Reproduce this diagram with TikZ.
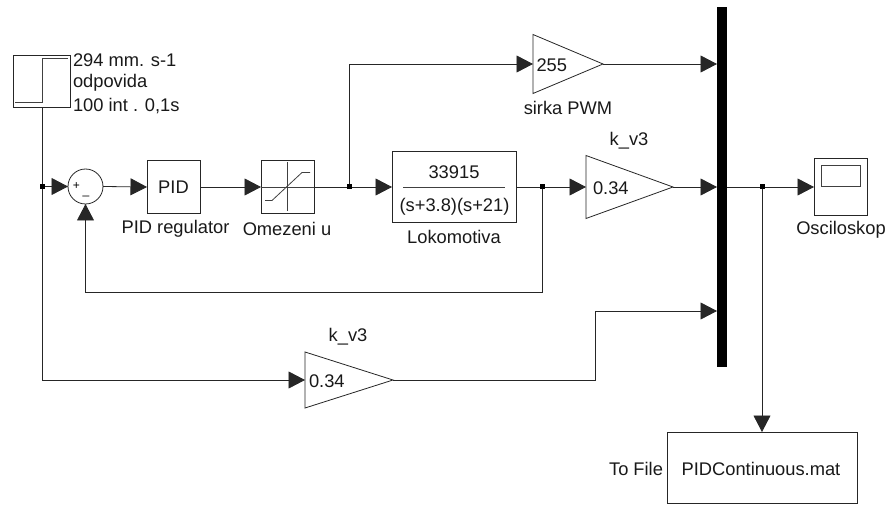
\documentclass[tikz,border=0pt]{standalone}
\usepackage{fontspec}
\setmainfont{Liberation Sans}
\usetikzlibrary{arrows.meta,shapes.geometric}
\tikzset{
  wire/.style={line width=0.8pt,draw=black!85},
  arrowwire/.style={wire,-{Triangle[length=16.5pt,width=17pt]}},
  blockbox/.style={draw=black!85,line width=0.8pt,fill=white,rectangle,inner sep=0,outer sep=0},
  gainblock/.style={draw=black!85,line width=0.8pt,fill=white,isosceles triangle,isosceles triangle stretches,shape border rotate=0,inner sep=0,outer sep=0,anchor=lower side},
  dotnode/.style={fill=black,rectangle,minimum size=5pt,inner sep=0,outer sep=0},
  lbl/.style={font=\fontsize{18.3}{22}\selectfont,inner sep=0,outer sep=0,text=black!90},
  glyph/.style={line width=0.8pt,draw=black!75}
}
\begin{document}
\begin{tikzpicture}[x=1pt,y=-1pt]
\useasboundingbox (0,0) rectangle (887,505);
% step source
\node[blockbox,minimum width=56.5pt,minimum height=52.5pt] (src) at (41.75,81.5) {};
\draw[glyph] (15,102) -- (42,102) -- (42,58.5) -- (67.5,58.5);
\node[lbl,anchor=west] (srcA) at (73,60.5) {294 mm. s-1};
\node[lbl,anchor=west] (srcB) at (73,83) {odpovida};
\node[lbl,anchor=west] (srcC) at (73,106.5) {100 int . 0,1s};
% sum
\node[draw=black!85,line width=0.8pt,fill=white,circle,minimum size=35pt,inner sep=0,outer sep=0] (sum) at (85.5,186.5) {};
\node[font=\fontsize{12}{13}\selectfont,inner sep=0] (plus) at (76.5,186.5) {+};
\node[font=\fontsize{12}{13}\selectfont,inner sep=0] (minus) at (86,196) {\_};
% PID
\node[blockbox,minimum width=53pt,minimum height=53pt] (pid) at (173.5,187) {};
\node[lbl] (pidt) at (173.5,187) {PID};
\node[lbl] (pidl) at (175.5,228.5) {PID regulator};
% saturation
\node[blockbox,minimum width=53pt,minimum height=53pt] (sat) at (287.5,187) {};
\draw[glyph] (sat.west) -- (sat.east);
\draw[glyph] (sat.north) ++(0,2) -- (287.5,211);
\draw[glyph] (265,200.5) -- (272,200.5) -- (302,172.5) -- (310,172.5);
\node[lbl] (satl) at (287,228.5) {Omezeni u};
% gain 255
\node[gainblock,minimum height=70pt,minimum width=59pt] (g255) at (533,64) {};
\node[lbl,anchor=west] (g255t) at (536.5,65) {255};
\node[lbl] (g255l) at (568,108) {sirka PWM};
% plant
\node[blockbox,minimum width=124pt,minimum height=70.5pt] (tf) at (454,187) {};
\node[lbl] (tfn) at (454,172.5) {33915};
\draw[glyph] (403,187) -- (505,187);
\node[lbl] (tfd) at (454.5,207) {(s+3.8)(s+21)};
\node[lbl] (tfl) at (454,237) {Lokomotiva};
% gain k_v3
\node[gainblock,minimum height=87pt,minimum width=63pt] (g1) at (586,187) {};
\node[lbl,anchor=west] (g1t) at (593,188) {0.34};
\node[lbl] (g1l) at (629,140.5) {k\_v3};
% lower gain
\node[gainblock,minimum height=88pt,minimum width=56pt] (g2) at (305,380) {};
\node[lbl,anchor=west] (g2t) at (309,381) {0.34};
\node[lbl] (g2l) at (348,337) {k\_v3};
% bus
\node[fill=black,rectangle,minimum width=10pt,minimum height=360pt,inner sep=0,outer sep=0] (bus) at (722,187) {};
% scope
\node[blockbox,minimum width=53pt,minimum height=57pt] (scope) at (840.5,187) {};
\node[draw=black!75,line width=0.8pt,rectangle,minimum width=39pt,minimum height=21.5pt,inner sep=0] (scopein) at (840.5,176) {};
\node[lbl] (scopel) at (841,230) {Osciloskop};
% to file
\node[blockbox,minimum width=190pt,minimum height=71pt] (file) at (762,467.5) {};
\node[lbl] (filet) at (761,469) {PIDContinuous.mat};
\node[lbl,anchor=east] (filel) at (663,469) {To File};
% junctions
\node[dotnode] (j1) at (42,186.5) {};
\node[dotnode] (j2) at (349,187) {};
\node[dotnode] (j3) at (542,187) {};
\node[dotnode] (j4) at (762,187) {};
\coordinate (c1) at (42,380);
\coordinate (c2) at (349,64);
\coordinate (c3) at (542,292);
\coordinate (c4) at (85.5,292);
\coordinate (c5) at (595,380);
\coordinate (c6) at (595,311);
\coordinate (c7) at (717,311);
% connectors
\draw[wire] (src.south -| j1) -- (j1);
\draw[wire] (j1) -- (c1);
\draw[arrowwire] (c1) -- (g2.lower side);
\draw[arrowwire] (j1) -- (sum.west);
\draw[arrowwire] (sum.east) -- (pid.west);
\draw[arrowwire] (pid.east) -- (sat.west);
\draw[wire] (sat.east) -- (j2);
\draw[arrowwire] (j2) -- (tf.west);
\draw[arrowwire] (j2) -- (c2) -- (g255.lower side);
\draw[arrowwire] (g255.apex) -- (g255.apex -| bus.west);
\draw[wire] (tf.east) -- (j3);
\draw[arrowwire] (j3) -- (g1.lower side);
\draw[arrowwire] (g1.apex) -- (g1.apex -| bus.west);
\draw[arrowwire] (j3) -- (c3) -- (c4) -- (sum.south);
\draw[arrowwire] (g2.apex) -- (c5) -- (c6) -- (c7);
\draw[wire] (j4 -| bus.east) -- (j4);
\draw[arrowwire] (j4) -- (scope.west);
\draw[arrowwire] (j4) -- (j4 |- file.north);
\end{tikzpicture}
\end{document}
